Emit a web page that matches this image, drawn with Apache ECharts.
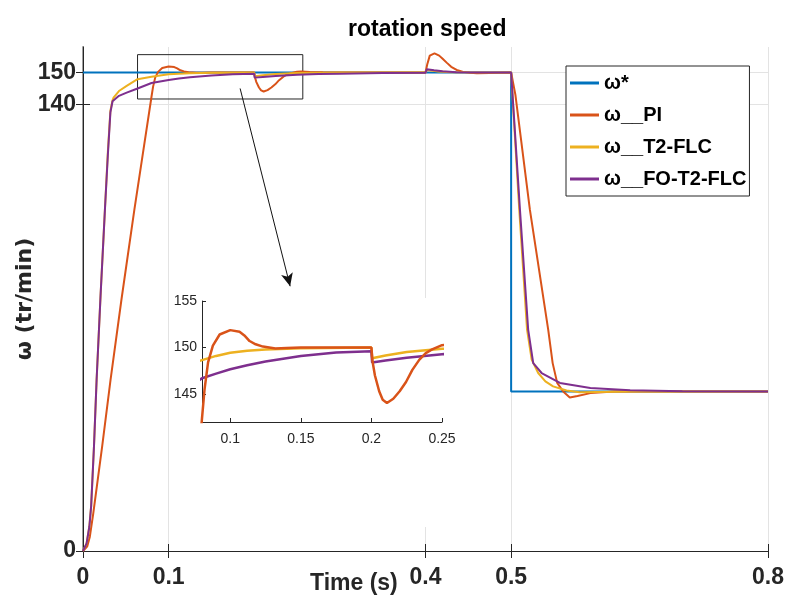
<!DOCTYPE html>
<html>
<head>
<meta charset="utf-8">
<script src="https://cdn.jsdelivr.net/npm/echarts@6/dist/echarts.min.js"></script>
<style>
  html, body { margin: 0; padding: 0; background: #fff; }
  #main { width: 785px; height: 597px; }
</style>
</head>
<body>
<div id="main"></div>
<script>
// rotation speed: reference step and three controllers
var seriesNames = ['ω*', 'ω__PI', 'ω__T2-FLC', 'ω__FO-T2-FLC'];
var xTicks = [0, 0.1, 0.4, 0.5, 0.8];
var yTicks = [0, 140, 150];
var zoomXTicks = [0.1, 0.15, 0.2, 0.25];
var zoomYTicks = [145, 150, 155];

// [time (s), speed (tr/min)]
var wRef = [[0, 150], [0.5, 150], [0.5, 50], [0.8, 50]];

var wPI = [
  [0, 0], [0.002, 0], [0.005, 1.5], [0.008, 4.5], [0.012, 11.8], [0.0225, 33], [0.0322, 53.7],
  [0.045, 79], [0.06, 107], [0.07, 124.7], [0.08, 142.4], [0.0818, 145.5], [0.0843, 148.4],
  [0.0877, 150.2], [0.0925, 151.4], [0.1, 151.87], [0.1066, 151.7], [0.11, 151.3], [0.1137, 150.7],
  [0.118, 150.35], [0.1232, 150.1], [0.132, 149.9], [0.14, 149.95], [0.15, 150], [0.2, 150],
  [0.2008, 148.5], [0.2025, 147], [0.2055, 145.3], [0.208, 144.4], [0.211, 144.05], [0.2155, 144.5],
  [0.22, 145.3], [0.2245, 146.3], [0.229, 147.6], [0.234, 148.7], [0.2385, 149.4], [0.243, 149.8],
  [0.25, 150.25], [0.255, 150.35], [0.265, 150.2], [0.28, 150.05], [0.3, 150], [0.4, 150],
  [0.402, 152.5], [0.405, 155.3], [0.4105, 156], [0.416, 155.3], [0.42, 154.3], [0.4247, 153.1],
  [0.43, 151.8], [0.4364, 150.8], [0.444, 150.2], [0.452, 149.9], [0.46, 149.75], [0.475, 149.85],
  [0.5, 150], [0.502, 149.5], [0.505, 143], [0.5219, 107], [0.5433, 69.4], [0.5485, 58.9],
  [0.5538, 52.7], [0.5608, 50], [0.5685, 48.1], [0.5775, 48.6], [0.5925, 49.5], [0.6205, 50], [0.8, 50]
];

var wT2 = [
  [0, 0], [0.0015, 0], [0.0042, 2.4], [0.0074, 7.6], [0.0095, 14], [0.0128, 32.7], [0.0159, 53.7],
  [0.0205, 80], [0.0256, 107], [0.029, 125], [0.032, 138], [0.0345, 141.3], [0.0357, 142.1],
  [0.042, 144.2], [0.051, 145.8], [0.0637, 147.9], [0.08, 148.65], [0.09, 149.1], [0.1, 149.43],
  [0.112, 149.65], [0.125, 149.8], [0.15, 149.93], [0.2, 150], [0.2005, 148.85], [0.21, 149.15],
  [0.225, 149.53], [0.25, 149.86], [0.275, 149.96], [0.3, 150], [0.4, 150], [0.4015, 150.8],
  [0.415, 150.3], [0.43, 150.05], [0.5, 150], [0.5095, 107], [0.5186, 69.4], [0.524, 60],
  [0.5316, 55.8], [0.54, 53.2], [0.549, 51.6], [0.5647, 50.3], [0.58, 49.8], [0.6, 49.85],
  [0.65, 50], [0.8, 50]
];

var wFO = [
  [0, 0], [0.0015, 0], [0.0042, 2.4], [0.0074, 7.6], [0.0095, 14], [0.0128, 32.7], [0.0159, 53.7],
  [0.0205, 80], [0.0256, 107], [0.029, 124], [0.032, 137.5], [0.0345, 141], [0.0357, 141.6],
  [0.042, 142.7], [0.051, 143.7], [0.0637, 145], [0.08, 146.7], [0.09, 147.2], [0.1, 147.66],
  [0.112, 148.1], [0.125, 148.5], [0.15, 149.1], [0.175, 149.46], [0.2, 149.6], [0.2005, 148.4],
  [0.21, 148.6], [0.225, 148.9], [0.25, 149.28], [0.275, 149.5], [0.3, 149.65], [0.35, 149.85],
  [0.4, 149.95], [0.4015, 151], [0.41, 150.7], [0.42, 150.4], [0.436, 150.1], [0.46, 150],
  [0.5, 150], [0.5103, 107], [0.5199, 69.4], [0.5258, 58.9], [0.5356, 55.8], [0.557, 52.7],
  [0.5925, 51.1], [0.639, 50.4], [0.7, 50.1], [0.8, 50]
];

// zoom box and arrow, in data units
var zoomBox = [[0.0637, 141.7], [0.2567, 155.6]];
var arrowLine = [[0.1835, 145], [0.2419, 83]];

var colors = ['#0072BD', '#D95319', '#EDB120', '#7E2F8E'];
var sans = "'Liberation Sans', Arial, sans-serif";
var ink = '#262626';

function lineSeries(name, data, color, xi, yi, z, w) {
  return {
    name: name, type: 'line', data: data,
    xAxisIndex: xi, yAxisIndex: yi,
    symbol: 'none', z: z,
    lineStyle: { color: color, width: w },
    itemStyle: { color: color }
  };
}

var refSeries = lineSeries(seriesNames[0], wRef, colors[0], 0, 0, 2, 2);
refSeries.markArea = {
  silent: true,
  itemStyle: { color: 'rgba(0,0,0,0)', borderColor: ink, borderWidth: 1 },
  data: [[{ coord: zoomBox[0] }, { coord: zoomBox[1] }]]
};
refSeries.markLine = {
  silent: true,
  symbol: ['none', 'arrow'],
  symbolSize: [9, 13],
  label: { show: false },
  lineStyle: { color: '#111', width: 1, type: 'solid' },
  data: [[{ coord: arrowLine[0] }, { coord: arrowLine[1] }]]
};

var myChart = echarts.init(document.getElementById('main'));
var option = {
  animation: false,
  backgroundColor: '#fff',
  title: [
    { text: 'rotation speed', left: 343, top: 13,
      textStyle: { fontFamily: sans, fontWeight: 'bold', fontSize: 23, color: '#000' } },
    { text: 'Time (s)', left: 305, top: 567,
      textStyle: { fontFamily: sans, fontWeight: 'bold', fontSize: 23, color: ink } }
  ],
  legend: {
    data: seriesNames,
    icon: 'rect',
    orient: 'vertical',
    left: 566, top: 66,
    backgroundColor: '#fff',
    borderColor: ink, borderWidth: 1,
    padding: [5, 3, 5, 4],
    itemWidth: 29, itemHeight: 3, itemGap: 8,
    textStyle: { fontFamily: sans, fontWeight: 'bold', fontSize: 20, lineHeight: 24, color: '#000' }
  },
  graphic: [{
    type: 'rect', z: 1,
    shape: { x: 171, y: 298, width: 284, height: 229 },
    style: { fill: '#fff' }
  }],
  grid: [
    { left: 83, right: 17, top: 47, bottom: 46, outerBoundsMode: 'none' },
    { left: 202, right: 343, top: 301, bottom: 175, outerBoundsMode: 'none' }
  ],
  xAxis: [
    { type: 'value', gridIndex: 0, min: 0, max: 0.8, position: 'bottom',
      axisLine: { lineStyle: { color: ink, width: 1 } },
      axisTick: { inside: true, length: 7, customValues: xTicks, lineStyle: { color: ink } },
      axisLabel: { customValues: xTicks, margin: 15, fontFamily: sans, fontWeight: 'bold', fontSize: 23, color: ink },
      splitLine: { show: true, lineStyle: { color: '#e3e3e3', width: 1 } } },
    { type: 'value', gridIndex: 0, min: 0, max: 0.8, position: 'top',
      axisLine: { lineStyle: { color: ink, width: 1 } },
      axisTick: { inside: true, length: 7, customValues: xTicks, lineStyle: { color: ink } },
      axisLabel: { show: false }, splitLine: { show: false } },
    { type: 'value', gridIndex: 1, min: 0.08, max: 0.25,
      axisLine: { lineStyle: { color: ink, width: 1 } },
      axisTick: { inside: true, length: 4, customValues: zoomXTicks, lineStyle: { color: ink } },
      axisLabel: { customValues: zoomXTicks, margin: 10, fontFamily: sans, fontSize: 14, color: ink },
      splitLine: { show: false }, z: 3 }
  ],
  yAxis: [
    { type: 'value', gridIndex: 0, min: 0, max: 158, position: 'left',
      name: 'ω (tr/min)', nameLocation: 'middle', nameGap: 47, nameRotate: 90, nameMoveOverlap: false,
      nameTextStyle: { fontFamily: 'DejaVu Sans', fontWeight: 'bold', fontSize: 22, color: ink },
      axisLine: { lineStyle: { color: '#a0a0a0', width: 2 } },
      axisTick: { inside: true, length: 7, customValues: yTicks, lineStyle: { color: ink } },
      axisLabel: { customValues: yTicks, margin: 7, fontFamily: sans, fontWeight: 'bold', fontSize: 23, color: ink },
      splitLine: { show: true, lineStyle: { color: '#e3e3e3', width: 1 } } },
    { type: 'value', gridIndex: 0, min: 0, max: 158, position: 'right',
      axisLine: { show: true, lineStyle: { color: ink, width: 1 } },
      axisTick: { inside: true, length: 7, customValues: yTicks, lineStyle: { color: ink } },
      axisLabel: { show: false }, splitLine: { show: false } },
    { type: 'value', gridIndex: 1, min: 142, max: 155,
      axisLine: { show: true, lineStyle: { color: ink, width: 1 } },
      axisTick: { inside: true, length: 4, customValues: zoomYTicks, lineStyle: { color: ink } },
      axisLabel: { customValues: zoomYTicks, margin: 5, fontFamily: sans, fontSize: 14, color: ink },
      splitLine: { show: false }, z: 3 }
  ],
  series: [
    refSeries,
    lineSeries(seriesNames[1], wPI, colors[1], 0, 0, 2, 2),
    lineSeries(seriesNames[2], wT2, colors[2], 0, 0, 2, 2),
    lineSeries(seriesNames[3], wFO, colors[3], 0, 0, 2, 2),
    // inset (zoom of 0.08 - 0.25 s)
    lineSeries(seriesNames[2], wT2, colors[2], 2, 2, 4, 2.5),
    lineSeries(seriesNames[3], wFO, colors[3], 2, 2, 4, 2.5),
    lineSeries(seriesNames[1], wPI, colors[1], 2, 2, 4, 2.5)
  ]
};
myChart.setOption(option);
</script>
</body>
</html>
